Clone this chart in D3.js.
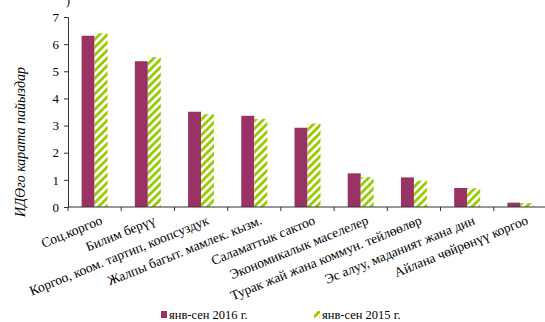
<!DOCTYPE html>
<html lang="ky">
<head>
  <meta charset="utf-8" />
  <script src="https://cdn.jsdelivr.net/npm/d3@7"></script>
  <style>
    body { margin: 0; background: #fff; }
  </style>
</head>
<body>
  <div id="chart"></div>
  <script>
    const categories = [
      "Соц.коргоо",
      "Билим берүү",
      "Коргоо, коом. тартип, коопсуздук",
      "Жалпы багыт. мамлек. кызм.",
      "Саламаттык сактоо",
      "Экономикалык маселелер",
      "Турак жай жана коммун. тейлөөлөр",
      "Эс алуу, маданият жана дин",
      "Айлана чөйрөнүү коргоо"
    ];
    const values2016 = [6.31, 5.37, 3.51, 3.36, 2.92, 1.24, 1.09, 0.70, 0.16];
    const values2015 = [6.40, 5.52, 3.42, 3.24, 3.08, 1.10, 0.97, 0.69, 0.14];
    const seriesNames = ["янв-сен 2016 г.", "янв-сен 2015 г."];
    const yTicks = [0, 1, 2, 3, 4, 5, 6, 7];

    const w = 545, h = 322;
    const mLeft = 68, mRight = 547, mTop = 17, mBottom = 207;
    const serif = "'Liberation Serif', 'Times New Roman', serif";

    const svg = d3.select("#chart").append("svg")
      .attr("width", w).attr("height", h)
      .style("font-family", serif);

    // hatch pattern for 2015
    const defs = svg.append("defs");
    const pat = defs.append("pattern")
      .attr("id", "hatch")
      .attr("patternUnits", "userSpaceOnUse")
      .attr("width", 5.5).attr("height", 5.5)
      .attr("patternTransform", "rotate(45)");
    pat.append("rect").attr("width", 5.5).attr("height", 5.5).attr("fill", "#fff");
    pat.append("rect").attr("width", 2.8).attr("height", 5.5).attr("fill", "#99cc00");

    const x = d3.scaleBand().domain(categories).range([mLeft, mRight]);
    const y = d3.scaleLinear().domain([0, 7]).range([mBottom, mTop]);
    const barW = 13;
    const offset = (x.bandwidth() - 2 * barW) / 2;

    // bars
    svg.append("g").selectAll("rect")
      .data(categories)
      .join("rect")
      .attr("x", d => x(d) + offset)
      .attr("y", (d, i) => y(values2016[i]))
      .attr("width", barW)
      .attr("height", (d, i) => y(0) - y(values2016[i]))
      .attr("fill", "#993366");

    svg.append("g").selectAll("rect")
      .data(categories)
      .join("rect")
      .attr("x", d => x(d) + offset + barW)
      .attr("y", (d, i) => y(values2015[i]))
      .attr("width", barW)
      .attr("height", (d, i) => y(0) - y(values2015[i]))
      .attr("fill", "url(#hatch)");

    // y axis
    const yAxis = svg.append("g")
      .attr("transform", `translate(${mLeft},0)`)
      .call(d3.axisLeft(y).tickValues(yTicks).tickSize(4).tickPadding(5).tickFormat(d3.format("d")));
    yAxis.attr("font-family", null);
    yAxis.selectAll("text").attr("font-size", 13).style("font-family", serif);
    yAxis.select(".domain").attr("stroke", "#333");
    yAxis.selectAll(".tick line").attr("stroke", "#333");

    // x axis: ticks at band boundaries
    const xg = svg.append("g").attr("transform", `translate(0,${mBottom})`);
    xg.append("line").attr("x1", mLeft).attr("x2", mRight).attr("stroke", "#333");
    xg.selectAll("line.tk")
      .data(categories.concat(["end"]))
      .join("line")
      .attr("class", "tk")
      .attr("x1", (d, i) => mLeft + i * x.bandwidth())
      .attr("x2", (d, i) => mLeft + i * x.bandwidth())
      .attr("y1", 0).attr("y2", 4)
      .attr("stroke", "#333");

    xg.selectAll("text.lbl")
      .data(categories)
      .join("text")
      .attr("class", "lbl")
      .attr("transform", d => `translate(${x(d) + x.bandwidth() / 2 + 5},${8}) rotate(-22)`)
      .attr("text-anchor", "end")
      .attr("dy", "0.7em")
      .attr("font-size", 13.5)
      .text(d => d);

    // y axis title
    svg.append("text")
      .attr("transform", `translate(25,142) rotate(-90)`)
      .attr("text-anchor", "middle")
      .attr("font-size", 14)
      .attr("font-style", "italic")
      .text("ИДӨго карата пайыздар");

    // cut-off fragment at top
    svg.append("text").attr("x", 66).attr("y", 5).attr("font-size", 12).text(")");

    // legend
    const legendX = [161, 314];
    const lg = svg.append("g").selectAll("g")
      .data(seriesNames)
      .join("g")
      .attr("transform", (d, i) => `translate(${legendX[i]},315)`);
    lg.append("rect")
      .attr("x", 0).attr("y", -4).attr("width", 6).attr("height", 7)
      .attr("fill", (d, i) => i === 0 ? "#993366" : "url(#hatch)");
    lg.append("text")
      .attr("x", 8).attr("dy", "0.35em")
      .attr("font-size", 12.5)
      .text(d => d);
  </script>
</body>
</html>
